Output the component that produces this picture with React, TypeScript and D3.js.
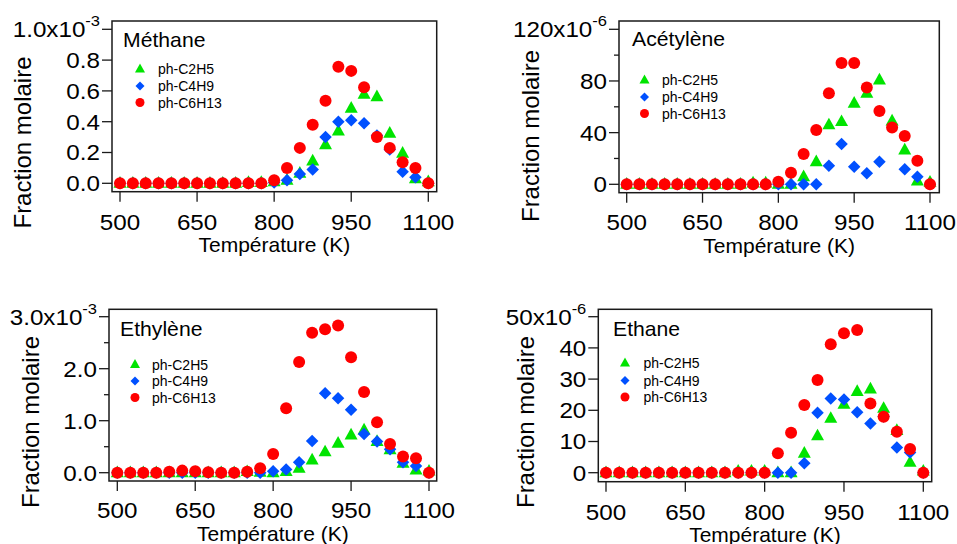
import React from "react";
import * as d3 from "d3";

const temperatures = [500, 525, 550, 575, 600, 625, 650, 675, 700, 725, 750, 775, 800, 825, 850, 875, 900, 925, 950, 975, 1000, 1025, 1050, 1075, 1100];
const seriesNames = ["ph-C2H5", "ph-C4H9", "ph-C6H13"];
const xTicks = [500, 650, 800, 950, 1100];

// Méthane (x1e-3)
const methaneC2H5 = [0, 0, 0, 0, 0, 0, 0, 0, 0, 0, 0.005, 0.005, 0.01, 0.02, 0.065, 0.145, 0.25, 0.34, 0.487, 0.578, 0.562, 0.325, 0.195, 0.03, 0.01];
const methaneC4H9 = [0, 0, 0, 0, 0, 0, 0, 0, 0, 0, 0, 0, 0.005, 0.02, 0.06, 0.09, 0.3, 0.4, 0.41, 0.39, 0.31, 0.22, 0.075, 0.04, 0];
const methaneC6H13 = [0, 0, 0, 0, 0, 0, 0, 0, 0, 0, 0, 0, 0.02, 0.1, 0.23, 0.38, 0.536, 0.757, 0.73, 0.623, 0.3, 0.23, 0.136, 0.1, 0];

// Acétylène (x1e-6)
const acetyleneC2H5 = [0, 0, 0, 0, 0, 0, 0, 0, 0, 0, 1, 1, 0, 0, 5.9, 17.5, 46, 48.5, 62.7, 70.4, 80.7, 49, 26.5, 2.5, 1.5];
const acetyleneC4H9 = [0, 0, 0, 0, 0, 0, 0, 0, 0, 0, 0, 0, 0, 0, 0, 0, 14.4, 31.2, 13.6, 8.5, 17.5, null, 11.6, 5.9, 0];
const acetyleneC6H13 = [0, 0, 0, 0, 0, 0, 0, 0, 0, 0, 0, 0, 2, 9, 23.5, 42, 70.4, 94, 94, 75, 56.7, 44, 37.4, 18.3, 0];

// Ethylène (x1e-3)
const ethyleneC2H5 = [0, 0, 0, 0, 0, 0, 0, 0, 0, 0, 0.02, 0.01, 0, 0.02, 0.085, 0.245, 0.4, 0.565, 0.725, 0.82, 0.6, 0.44, 0.18, 0.05, 0.03];
const ethyleneC4H9 = [0, 0, 0, 0, 0, 0, 0, 0, 0, 0, 0, 0, 0.03, 0.06, 0.2, 0.61, 1.53, 1.43, 1.21, 0.745, 0.6, 0.45, 0.2, 0.13, 0];
const ethyleneC6H13 = [0, 0, 0, 0, 0.02, 0.04, 0.03, 0.01, 0, 0, 0.02, 0.085, 0.36, 1.24, 2.13, 2.69, 2.76, 2.83, 2.22, 1.55, 0.97, 0.55, 0.31, 0.28, 0];

// Ethane (x1e-6)
const ethaneC2H5 = [0, 0, 0, 0, 0, 0, 0, 0, 0, 0, 0.5, 0.5, 0.5, 0, 0, 6.2, 11.8, 17.4, 21.9, 26, 26.8, 20.6, 13.5, 3.3, 0.5];
const ethaneC4H9 = [0, 0, 0, 0, 0, 0, 0, 0, 0, 0, 0, 0, 0, 0, 0, 3.0, 19.2, 23.8, 23.5, 19.4, 15.8, 18, 8.1, 6.5, 0];
const ethaneC6H13 = [0, 0, 0, 0, 0, 0, 0, 0, 0, 0, 0, 0, 0, 6.2, 12.8, 21.7, 29.7, 41.2, 44.7, 45.7, 22.2, 17.9, 13.1, 7.6, 0];

const methaneTicks = [0, 0.2, 0.4, 0.6, 0.8, 1.0];
const methaneLabels = ["0.0", "0.2", "0.4", "0.6", "0.8", "1.0x10"];
const acetyleneTicks = [0, 40, 80, 120];
const acetyleneMinor = [20, 60, 100];
const acetyleneLabels = ["0", "40", "80", "120x10"];
const ethyleneTicks = [0, 1, 2, 3];
const ethyleneMinor = [0.5, 1.5, 2.5];
const ethyleneLabels = ["0.0", "1.0", "2.0", "3.0x10"];
const ethaneTicks = [0, 10, 20, 30, 40, 50];
const ethaneLabels = ["0", "10", "20", "30", "40", "50x10"];

const COLORS = ["#00e400", "#0050ff", "#ff0000"];
const FONT = "'Liberation Sans', Arial, Helvetica, sans-serif";
const SX = 1.1;

type PanelProps = {
  title: string;
  series: (number | null)[][];
  yTicks: number[];
  yMinor: number[];
  yLabels: string[];
  exponent: string;
  frame: { l: number; r: number; t: number; b: number };
  xr: [number, number];
  yr: [number, number];
  yTitle: { x: number; y: number };
  xLabelY: number;
  xTitleY: number;
  titlePos: { x: number; y: number };
  legend: { x: number; y: number[]; tx: number };
};

function Marker({ kind, x, y, s, color }: { kind: number; x: number; y: number; s: number; color: string }) {
  if (kind === 0) {
    const h = s * 0.9;
    const p = `M${x},${y - h * 0.62} L${x + s / 2},${y + h * 0.38} L${x - s / 2},${y + h * 0.38} Z`;
    return <path d={p} fill={color} />;
  }
  if (kind === 1) {
    const r = s / 2;
    const p = `M${x},${y - r} L${x + r},${y} L${x},${y + r} L${x - r},${y} Z`;
    return <path d={p} fill={color} />;
  }
  return <circle cx={x} cy={y} r={s / 2} fill={color} />;
}

function Panel(p: PanelProps) {
  const x = d3.scaleLinear().domain([500, 1100]).range(p.xr);
  const yMax = p.yTicks[p.yTicks.length - 1];
  const y = d3.scaleLinear().domain([0, yMax]).range(p.yr);
  const { l, r, t, b } = p.frame;
  const sizes = [13, 12.5, 12];
  return (
    <g fontFamily={FONT} fill="#000">
      {p.series.map((vals, si) => (
        <g key={si}>
          {vals.map((v, i) =>
            v === null ? null : (
              <Marker key={i} kind={si} x={x(temperatures[i])} y={y(v)} s={sizes[si]} color={COLORS[si]} />
            )
          )}
        </g>
      ))}
      <rect x={l} y={t} width={r - l} height={b - t} fill="none" stroke="#1a1a1a" strokeWidth={1.5} />
      {p.yTicks.map((v, i) => (
        <g key={"y" + i}>
          <line x1={l - 10} x2={l} y1={y(v)} y2={y(v)} stroke="#1a1a1a" strokeWidth={1.3} />
          <text
            transform={`translate(${l - 12},${y(v)}) scale(${SX},1)`}
            dy="0.36em"
            textAnchor="end"
            fontSize={22}
          >
            {p.yLabels[i]}
            {i === p.yTicks.length - 1 ? (
              <tspan dy={-11} fontSize={15}>{p.exponent}</tspan>
            ) : null}
          </text>
        </g>
      ))}
      {p.yMinor.map((v, i) => (
        <line key={"m" + i} x1={l - 5} x2={l} y1={y(v)} y2={y(v)} stroke="#1a1a1a" strokeWidth={1.3} />
      ))}
      {xTicks.map((v, i) => (
        <g key={"x" + i}>
          <line x1={x(v)} x2={x(v)} y1={b} y2={b + 10} stroke="#1a1a1a" strokeWidth={1.3} />
          <text
            transform={`translate(${x(v)},${p.xLabelY}) scale(${SX},1)`}
            textAnchor="middle"
            fontSize={22}
          >
            {v}
          </text>
        </g>
      ))}
      <text x={(l + r) / 2} y={p.xTitleY} textAnchor="middle" fontSize={21}>
        Température (K)
      </text>
      <text
        transform={`translate(${p.yTitle.x},${p.yTitle.y}) rotate(-90)`}
        textAnchor="middle"
        fontSize={24}
      >
        Fraction molaire
      </text>
      <text transform={`translate(${p.titlePos.x},${p.titlePos.y}) scale(1.06,1)`} fontSize={20}>
        {p.title}
      </text>
      {seriesNames.map((n, si) => (
        <g key={"l" + si}>
          <Marker kind={si} x={p.legend.x} y={p.legend.y[si]} s={si === 0 ? 10 : 9} color={COLORS[si]} />
          <text x={p.legend.tx} y={p.legend.y[si]} dy="0.36em" fontSize={14}>
            {n}
          </text>
        </g>
      ))}
    </g>
  );
}

export default function App() {
  return (
    <svg
      width={957}
      height={544}
      style={{ position: "absolute", left: 0, top: 0, background: "#fff" }}
    >
      <rect width={957} height={544} fill="#fff" />
      <Panel
        title="Méthane"
        series={[methaneC2H5, methaneC4H9, methaneC6H13]}
        yTicks={methaneTicks}
        yMinor={[]}
        yLabels={methaneLabels}
        exponent="-3"
        frame={{ l: 112, r: 436.7, t: 21, b: 191.7 }}
        xr={[120, 428.3]}
        yr={[183.3, 29.3]}
        yTitle={{ x: 31, y: 142.5 }}
        xLabelY={230}
        xTitleY={252}
        titlePos={{ x: 123, y: 47 }}
        legend={{ x: 140, y: [69, 86, 102.5], tx: 158 }}
      />
      <Panel
        title="Acétylène"
        series={[acetyleneC2H5, acetyleneC4H9, acetyleneC6H13]}
        yTicks={acetyleneTicks}
        yMinor={acetyleneMinor}
        yLabels={acetyleneLabels}
        exponent="-6"
        frame={{ l: 619, r: 939.3, t: 21, b: 192.7 }}
        xr={[626.7, 930]}
        yr={[184.3, 29.3]}
        yTitle={{ x: 539, y: 136 }}
        xLabelY={230}
        xTitleY={253}
        titlePos={{ x: 632, y: 46 }}
        legend={{ x: 644.5, y: [80, 97, 113.5], tx: 662 }}
      />
      <Panel
        title="Ethylène"
        series={[ethyleneC2H5, ethyleneC4H9, ethyleneC6H13]}
        yTicks={ethyleneTicks}
        yMinor={ethyleneMinor}
        yLabels={ethyleneLabels}
        exponent="-3"
        frame={{ l: 109, r: 436.7, t: 309.3, b: 481 }}
        xr={[117.3, 429]}
        yr={[472.7, 316.7]}
        yTitle={{ x: 39, y: 422 }}
        xLabelY={518}
        xTitleY={541}
        titlePos={{ x: 120, y: 336 }}
        legend={{ x: 135, y: [364.5, 381, 397.5], tx: 152 }}
      />
      <Panel
        title="Ethane"
        series={[ethaneC2H5, ethaneC4H9, ethaneC6H13]}
        yTicks={ethaneTicks}
        yMinor={[]}
        yLabels={ethaneLabels}
        exponent="-6"
        frame={{ l: 598.3, r: 931.7, t: 309.3, b: 481.7 }}
        xr={[606, 923.3]}
        yr={[472.7, 316.7]}
        yTitle={{ x: 534, y: 422 }}
        xLabelY={520}
        xTitleY={542}
        titlePos={{ x: 613, y: 336 }}
        legend={{ x: 625, y: [363, 380.5, 397], tx: 643.5 }}
      />
    </svg>
  );
}
